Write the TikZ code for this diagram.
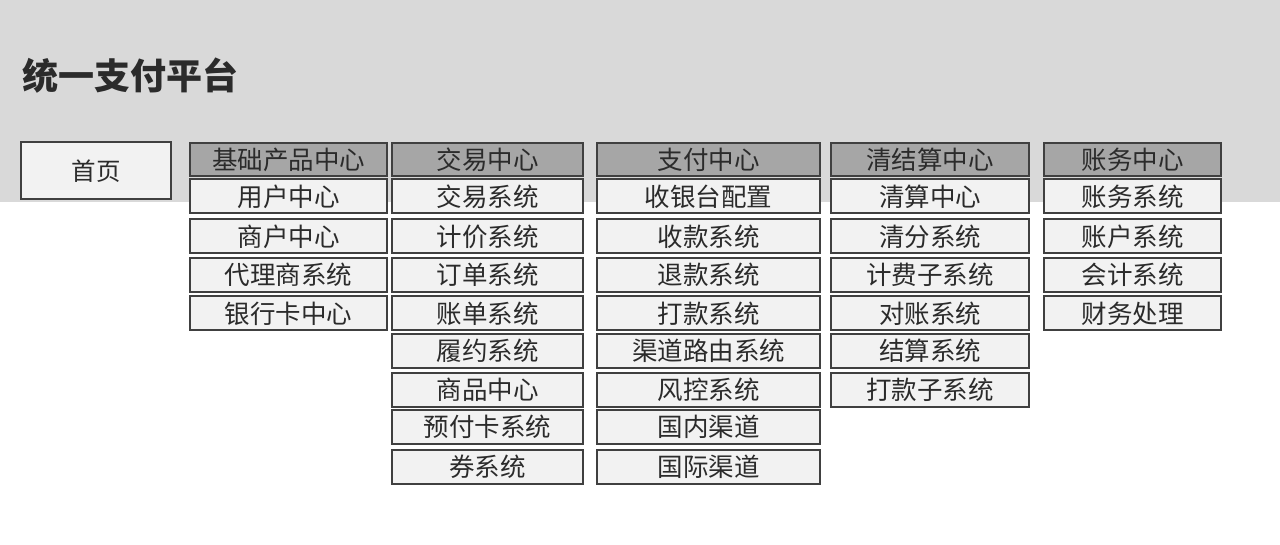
\documentclass[tikz,border=0pt]{standalone}
\usepackage{fontspec}
\setmainfont{Noto Sans CJK SC}
\usetikzlibrary{positioning}

\definecolor{bandgray}{HTML}{D9D9D9}
\definecolor{boxline}{HTML}{404040}
\definecolor{headfill}{HTML}{A6A6A6}
\definecolor{itemfill}{HTML}{F2F2F2}
\definecolor{boxtext}{HTML}{2B2B2B}

\tikzstyle{itembox} = [draw=boxline, fill=itemfill, line width=2pt,
    rectangle, inner sep=0pt, minimum height=34pt, text=boxtext,
    font=\fontsize{25.5}{25.5}\selectfont]
\tikzstyle{headbox} = [itembox, fill=headfill, minimum height=33pt]
\tikzstyle{colbase} = [minimum width=197pt]
\tikzstyle{coltrade} = [minimum width=191pt]
\tikzstyle{colpay} = [minimum width=223pt]
\tikzstyle{colclear} = [minimum width=198pt]
\tikzstyle{colacct} = [minimum width=177pt]

\begin{document}
\begin{tikzpicture}[x=1pt, y=-1pt]
    \useasboundingbox (0,0) rectangle (1280,545);
    \fill[bandgray] (0,0) rectangle (1280,202);
    \node[anchor=west, text=boxtext, font=\fontsize{36}{36}\selectfont\bfseries] (title) at (19,76) {统一支付平台};
    \node[itembox, minimum width=150pt, minimum height=57pt, font=\fontsize{24.5}{24.5}\selectfont] (home) at (96,171) {首页};
%------------ 基础产品中心 ---------------------
    \node[headbox, colbase] (base) at (288.5,159.5) {基础产品中心};
    \node[itembox, colbase] (base1) at (288.5,196.5) {用户中心};
    \node[itembox, colbase] (base2) at (288.5,236.5) {商户中心};
    \node[itembox, colbase] (base3) at (288.5,275) {代理商系统};
    \node[itembox, colbase] (base4) at (288.5,313.5) {银行卡中心};
%------------ 交易中心 ---------------------
    \node[headbox, coltrade] (trade) at (487.5,159.5) {交易中心};
    \node[itembox, coltrade] (trade1) at (487.5,196.5) {交易系统};
    \node[itembox, coltrade] (trade2) at (487.5,236.5) {计价系统};
    \node[itembox, coltrade] (trade3) at (487.5,275) {订单系统};
    \node[itembox, coltrade] (trade4) at (487.5,313.5) {账单系统};
    \node[itembox, coltrade] (trade5) at (487.5,351) {履约系统};
    \node[itembox, coltrade] (trade6) at (487.5,390) {商品中心};
    \node[itembox, coltrade] (trade7) at (487.5,426.5) {预付卡系统};
    \node[itembox, coltrade] (trade8) at (487.5,466.5) {券系统};
%------------ 支付中心 ---------------------
    \node[headbox, colpay] (pay) at (708.5,159.5) {支付中心};
    \node[itembox, colpay] (pay1) at (708.5,196.5) {收银台配置};
    \node[itembox, colpay] (pay2) at (708.5,236.5) {收款系统};
    \node[itembox, colpay] (pay3) at (708.5,275) {退款系统};
    \node[itembox, colpay] (pay4) at (708.5,313.5) {打款系统};
    \node[itembox, colpay] (pay5) at (708.5,351) {渠道路由系统};
    \node[itembox, colpay] (pay6) at (708.5,390) {风控系统};
    \node[itembox, colpay] (pay7) at (708.5,426.5) {国内渠道};
    \node[itembox, colpay] (pay8) at (708.5,466.5) {国际渠道};
%------------ 清结算中心 ---------------------
    \node[headbox, colclear] (clear) at (930,159.5) {清结算中心};
    \node[itembox, colclear] (clear1) at (930,196.5) {清算中心};
    \node[itembox, colclear] (clear2) at (930,236.5) {清分系统};
    \node[itembox, colclear] (clear3) at (930,275) {计费子系统};
    \node[itembox, colclear] (clear4) at (930,313.5) {对账系统};
    \node[itembox, colclear] (clear5) at (930,351) {结算系统};
    \node[itembox, colclear] (clear6) at (930,390) {打款子系统};
%------------ 账务中心 ---------------------
    \node[headbox, colacct] (acct) at (1132.5,159.5) {账务中心};
    \node[itembox, colacct] (acct1) at (1132.5,196.5) {账务系统};
    \node[itembox, colacct] (acct2) at (1132.5,236.5) {账户系统};
    \node[itembox, colacct] (acct3) at (1132.5,275) {会计系统};
    \node[itembox, colacct] (acct4) at (1132.5,313.5) {财务处理};
\end{tikzpicture}
\end{document}
